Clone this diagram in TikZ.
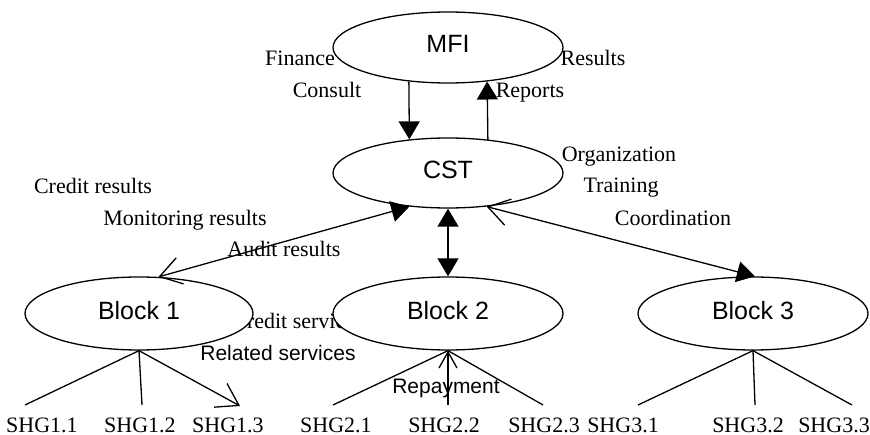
\documentclass[tikz,border=0pt]{standalone}
\usepackage{fontspec}
\setmainfont{Liberation Serif}
\setsansfont{Liberation Sans}
\usetikzlibrary{shapes.geometric,arrows.meta}
\tikzset{
  fulltip/.tip={Triangle[length=18pt,width=21pt]},
  opentip/.tip={Straight Barb[length=21pt,width=27pt]},
  smalltip/.tip={Straight Barb[length=16pt,width=18pt]},
  lbl/.style={anchor=base,inner sep=0pt,font=\fontsize{22}{24}\selectfont},
  slbl/.style={anchor=base,inner sep=0pt,font=\sffamily\fontsize{21}{24}\selectfont},
  oval/.style={ellipse,draw,fill=white,line width=1.3pt,inner sep=0pt,
    minimum width=230pt,minimum height=72pt,text depth=7pt,
    font=\sffamily\fontsize{25}{28}\selectfont},
  conn/.style={line width=1.3pt}
}
\begin{document}
\begin{tikzpicture}[x=1pt,y=-1pt]
\useasboundingbox (0,0) rectangle (870,435);
% labels (under the ellipses)
\node[lbl] (finance) at (300,66) {Finance};
\node[lbl] (consult) at (327,98) {Consult};
\node[lbl] (results) at (593,66) {Results};
\node[lbl] (reports) at (530,98) {Reports};
\node[lbl] (organ) at (619,162) {Organization};
\node[lbl] (training) at (621,193) {Training};
\node[lbl] (coord) at (673,226) {Coordination};
\node[lbl] (credres) at (93,194) {Credit results};
\node[lbl] (monres) at (185,226) {Monitoring results};
\node[lbl] (audres) at (284,257) {Audit results};
\node[lbl] (credserv) at (298,329) {Credit services};
\node[slbl] (relserv) at (278,361) {Related services};
\node[slbl] (repay) at (446,393) {Repayment};
% SHG labels
\node[lbl] (s11) at (42,432) {SHG1.1};
\node[lbl] (s12) at (140,432) {SHG1.2};
\node[lbl] (s13) at (228,432) {SHG1.3};
\node[lbl] (s21) at (336,432) {SHG2.1};
\node[lbl] (s22) at (444,432) {SHG2.2};
\node[lbl] (s23) at (544,432) {SHG2.3};
\node[lbl] (s31) at (623,432) {SHG3.1};
\node[lbl] (s32) at (748,432) {SHG3.2};
\node[lbl] (s33) at (834,432) {SHG3.3};
% ellipses
\node[oval,minimum height=71pt] (mfi) at (448,47.5) {MFI};
\node[oval,minimum height=70pt] (cst) at (448,173) {CST};
\node[oval,minimum width=228pt,minimum height=73pt] (b1) at (139,313.5) {Block 1};
\node[oval,minimum height=73pt] (b2) at (448,313.5) {Block 2};
\node[oval,minimum height=73pt] (b3) at (753,313.5) {Block 3};
% line ends
\coordinate (e11) at (25,405);
\coordinate (e12) at (142,405);
\coordinate (e13) at (240,406);
\coordinate (e21) at (333,405);
\coordinate (e22) at (448,405);
\coordinate (e23) at (543,405);
\coordinate (e31) at (638,405);
\coordinate (e32) at (755,405);
\coordinate (e33) at (852,405);
% connectors MFI - CST
\draw[conn,-{fulltip}] (mfi.221.4) -- (cst.139);
\draw[conn,-{fulltip}] (cst.40.2) -- (mfi.319.4);
% CST - blocks
\draw[conn,{fulltip}-{opentip}] (cst.221) -- (b1.62);
\draw[conn,{fulltip}-{fulltip}] (cst.south) -- (b2.north);
\draw[conn,{opentip}-{fulltip}] (cst.319.8) -- (b3.87);
% trees
\draw[conn] (b1.south) -- (e11);
\draw[conn] (b1.south) -- (e12);
\draw[conn,-{opentip}] (b1.south) -- (e13);
\draw[conn] (b2.south) -- (e21);
\draw[conn,{smalltip}-] (b2.south) -- (e22);
\draw[conn] (b2.south) -- (e23);
\draw[conn] (b3.south) -- (e31);
\draw[conn] (b3.south) -- (e32);
\draw[conn] (b3.south) -- (e33);
\end{tikzpicture}
\end{document}
